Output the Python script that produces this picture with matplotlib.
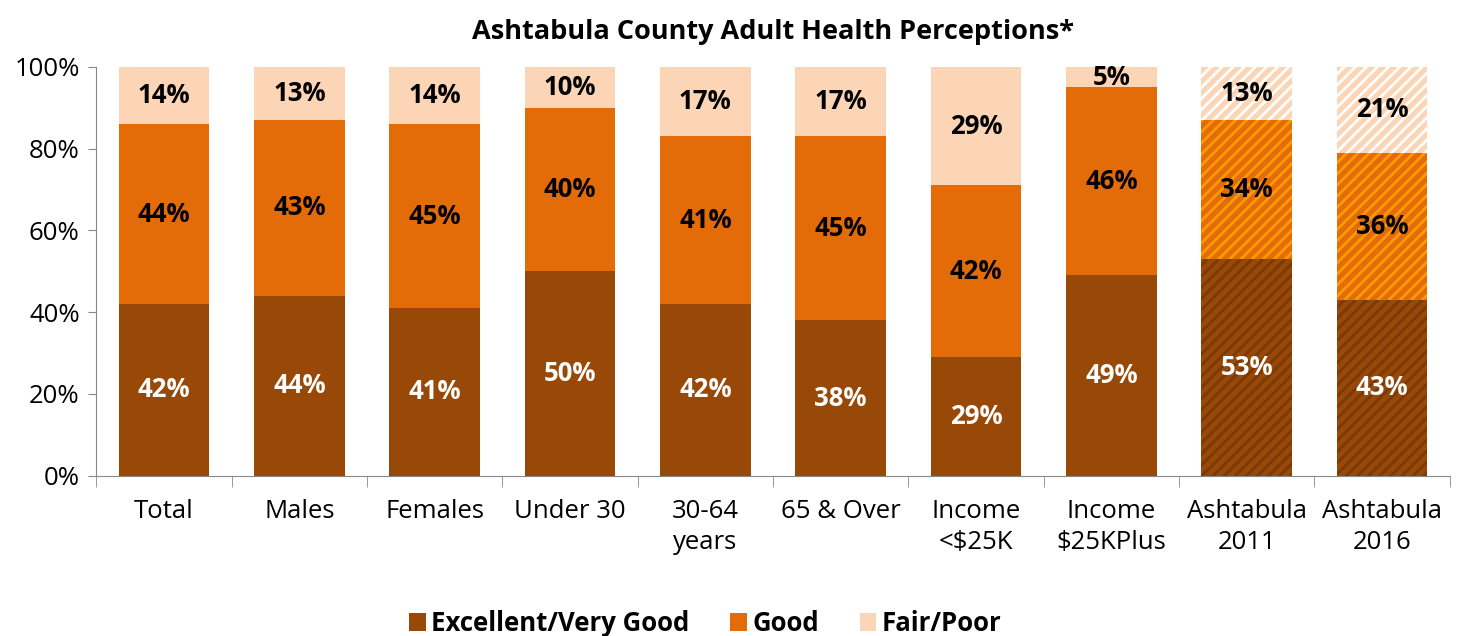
import matplotlib.pyplot as plt
import numpy as np

categories = ["Total", "Males", "Females", "Under 30", "30-64\nyears", "65 & Over",
              "Income\n<$25K", "Income\n$25KPlus", "Ashtabula\n2011", "Ashtabula\n2016"]
excellent = [42, 44, 41, 50, 42, 38, 29, 49, 53, 43]
good = [44, 43, 45, 40, 41, 45, 42, 46, 34, 36]
fair_poor = [14, 13, 14, 10, 17, 17, 29, 5, 13, 21]
hatched = [False] * 8 + [True, True]

series = [
    ("Excellent/Very Good", excellent, "#984807", "#7a3905", "white"),
    ("Good", good, "#e36c09", "#ff9a00", "black"),
    ("Fair/Poor", fair_poor, "#fbd5b5", "white", "black"),
]

plt.rcParams["font.family"] = ["Open Sans", "DejaVu Sans"]
plt.rcParams["hatch.linewidth"] = 2.0

fig, ax = plt.subplots(figsize=(14.6, 6.36), dpi=100)
fig.subplots_adjust(left=0.066, right=0.993, top=0.895, bottom=0.252)

x = np.arange(len(categories))
bottom = np.zeros(len(categories))
for name, vals, color, stripe, txt in series:
    vals = np.array(vals, dtype=float)
    for i in range(len(categories)):
        if hatched[i]:
            ax.bar(x[i], vals[i], 0.67, bottom=bottom[i], color=color,
                   edgecolor=stripe, hatch="///", linewidth=0)
        else:
            ax.bar(x[i], vals[i], 0.67, bottom=bottom[i], color=color, linewidth=0)
        ax.text(x[i], bottom[i] + vals[i] / 2, f"{vals[i]:.0f}%", ha="center",
                va="center", fontsize=18.5, fontweight="bold", color=txt)
    ax.bar(0, 0, 0, color=color, label=name)
    bottom += vals

ax.set_xlim(-0.5, len(categories) - 0.5)
ax.set_ylim(0, 100)
ax.set_yticks(range(0, 101, 20))
ax.set_yticklabels([f"{v}%" for v in range(0, 101, 20)], fontsize=18.5)
ax.set_xticks(x)
ax.set_xticklabels(categories, fontsize=18.5, linespacing=1.3)
ax.set_xticks(np.arange(-0.5, len(categories)), minor=True)
ax.tick_params(axis="x", which="major", length=0, pad=17)
ax.tick_params(axis="x", which="minor", length=8, color="#888888")
ax.tick_params(axis="y", length=6, color="#888888", pad=6)
for s in ["top", "right"]:
    ax.spines[s].set_visible(False)
for s in ["left", "bottom"]:
    ax.spines[s].set_color("#888888")

ax.set_title("Ashtabula County Adult Health Perceptions*", fontsize=19.5,
             fontweight="bold", pad=20)
fig.legend(loc="lower center", ncol=3, frameon=False, bbox_to_anchor=(0.483, -0.038),
           prop={"size": 18.5, "weight": "bold"}, handlelength=0.65, handleheight=0.65,
           handletextpad=0.2, columnspacing=1.6)

fig.savefig("out.png")
